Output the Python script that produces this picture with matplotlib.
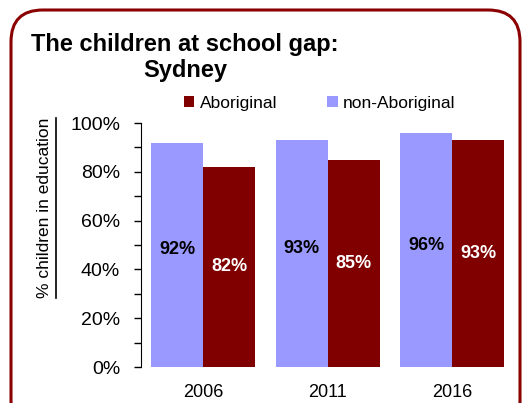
import matplotlib
matplotlib.use("Agg")
import matplotlib.pyplot as plt
from matplotlib.patches import FancyBboxPatch
from matplotlib.lines import Line2D
import numpy as np

plt.rcParams['font.family'] = ['Liberation Sans', 'DejaVu Sans']

years = ['2006', '2011', '2016']
non_abo = [92, 93, 96]
abo = [82, 85, 93]
labels_non = ['92%', '93%', '96%']
labels_abo = ['82%', '85%', '93%']

W, H = 531, 403
fig = plt.figure(figsize=(W / 100, H / 100), dpi=100)

# rounded frame
frame = FancyBboxPatch((11 / W, -30 / H), 509 / W, 423 / H,
                       boxstyle="round,pad=0,rounding_size=0.06",
                       transform=fig.transFigure, facecolor='none',
                       edgecolor='#8B0000', linewidth=2.2, mutation_aspect=W / H)
fig.patches.append(frame)

ax = fig.add_axes([141 / W, (H - 367) / H, (514.5 - 141) / W, (367 - 123) / H])
ax.set_facecolor('none')

x = np.arange(len(years))
bw = 0.418
b1 = ax.bar(x - bw / 2, non_abo, bw, color='#9999FF', label='non-Aboriginal')
b2 = ax.bar(x + bw / 2, abo, bw, color='#800000', label='Aboriginal')

for r, t in zip(b1, labels_non):
    ax.text(r.get_x() + r.get_width() / 2, r.get_height() / 2 + 2, t,
            ha='center', va='center', fontsize=13, fontweight='bold', color='black')
for r, t in zip(b2, labels_abo):
    ax.text(r.get_x() + r.get_width() / 2, r.get_height() / 2, t,
            ha='center', va='center', fontsize=13, fontweight='bold', color='white')

ax.set_xlim(-0.5, 2.5)
ax.set_ylim(0, 100)
ax.set_xticks(x)
ax.set_xticklabels(years, fontsize=13)
ax.set_yticks(range(0, 101, 20))
ax.set_yticklabels([f'{v}%' for v in range(0, 101, 20)], fontsize=14)
ax.set_yticks(range(10, 100, 20), minor=True)
ax.tick_params(axis='y', which='both', direction='out', length=5, width=1, pad=10)
ax.tick_params(axis='x', length=0, pad=12)
for s in ['top', 'right', 'bottom']:
    ax.spines[s].set_visible(False)

# y label, underlined
fig.text(45 / W, 1 - 208 / H, '% children in education', rotation=90,
         ha='center', va='center', fontsize=12.5)
fig.add_artist(Line2D([56 / W, 56 / W], [1 - 298 / H, 1 - 118 / H],
                      transform=fig.transFigure, color='black', lw=1.2))

# title
fig.text(31 / W, 1 - 45 / H, 'The children at school gap:', fontsize=17,
         fontweight='bold', va='center', ha='left')
fig.text(185 / W, 1 - 70 / H, 'Sydney', fontsize=17,
         fontweight='bold', va='center', ha='center')

# legend
h, l = ax.get_legend_handles_labels()
fig.legend([h[1], h[0]], [l[1], l[0]], loc='center left',
           bbox_to_anchor=(177 / W, 1 - 103 / H), ncol=2, frameon=False,
           fontsize=12.5, handlelength=0.6, handleheight=0.6, handletextpad=0.3,
           columnspacing=2.9, borderaxespad=0)

fig.savefig('out.png', dpi=100)
